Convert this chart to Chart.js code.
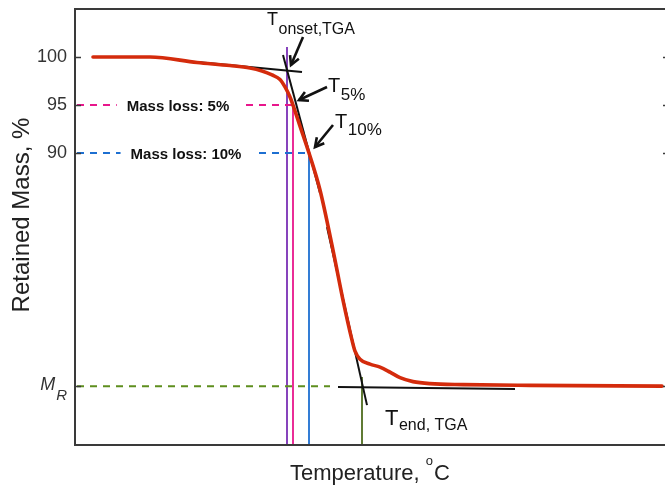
<!DOCTYPE html>
<html><head><meta charset="utf-8">
<script src="https://cdn.jsdelivr.net/npm/chart.js@4.4.0/dist/chart.umd.min.js"></script>
<style>html,body{margin:0;padding:0;background:#fff;overflow:hidden;}#wrap{width:672px;height:487px;overflow:hidden;}</style>
</head><body><div id="wrap"><canvas id="c" width="672" height="487"></canvas></div>
<script>
// ---- data (temperature in arbitrary °C units, retained mass in %) ----
const curveTemp = [18,75,122,155,175,187,197,205,210,215,218,225,234,245,258,268,277,280,285,295,305,315,325,338,355,388,455,587];
const curveMass = [100,100,99.43,99.11,98.85,98.54,98.13,97.66,96.88,95.83,95.0,92.81,90.0,86.15,79.90,74.69,70.52,69.38,68.54,68.02,67.71,67.19,66.61,66.20,65.99,65.89,65.81,65.73];

const baseTanTemp = [122,227],  baseTanMass = [99.48,98.44];
const steepTanATemp = [208,245], steepTanAMass = [100.21,85.83];
const steepTanBTemp = [252,292], steepTanBMass = [82.29,63.75];
const endTanTemp = [263,440],   endTanMass = [65.63,65.42];

const massLevels = [95, 90, 65.73];          // 5% loss, 10% loss, M_R
const levelEndTemp = [218, 234, 255];
const levelStartTemp = 2;
const markTemps = [212, 218, 234, 287];        // T_onset, T5%, T10%, T_end
const markTopMass = [101.04, 95, 90, 66.67];

const yTicks = [100, 95, 90, 65.73];
const yTickLabels = ['100', '95', '90', ''];
const mrLabel = ['M', 'R'];
const massLossLabels = ['Mass loss: 5%', 'Mass loss: 10%'];

const Y_MIN = 59.6, Y_MAX = 105, X_MIN = 0, X_MAX = 594;
const FONT = '"Liberation Sans", Arial, Helvetica, sans-serif';

const pts = (xs, ys) => xs.map((v, i) => ({x: v, y: ys[i]}));
const line = (data, color, width, dash) => ({data, borderColor: color, borderWidth: width, borderDash: dash || [], showLine: true, pointRadius: 0, fill: false});

const levelColors = ['#e8168c', '#1d6fd1', '#5e8e1e'];
const markColors = ['#7a2fb5', '#e8168c', '#1d6fd1', '#4f6d1f'];

const datasets = [];
const curveDs = line(pts(curveTemp, curveMass), '#d42b0c', 3.6);
curveDs.cubicInterpolationMode = 'monotone';
curveDs.borderCapStyle = 'round';
datasets.push(curveDs);
datasets.push(line(pts(baseTanTemp, baseTanMass), '#111', 2));
datasets.push(line(pts(steepTanATemp, steepTanAMass), '#111', 2));
datasets.push(line(pts(steepTanBTemp, steepTanBMass), '#111', 2));
datasets.push(line(pts(endTanTemp, endTanMass), '#111', 2));
massLevels.forEach((m, i) => datasets.push(line(pts([levelStartTemp, levelEndTemp[i]], [m, m]), levelColors[i], 2, [7, 6])));
markTemps.forEach((t, i) => datasets.push(line(pts([t, t], [Y_MIN, markTopMass[i]]), markColors[i], 1.8)));

// annotation positions (data coordinates)
const arrows = [
  [228, 102.08, 216, 99.17],
  [252, 96.875, 224, 95.52],
  [258, 92.92, 240, 90.625]
];
const tLabels = [
  {x: 192, y: 103.33, sub: 'onset,TGA', big: 18, small: 16, drop: 9},
  {x: 253, y: 96.35, sub: '5%', big: 20, small: 17, drop: 8},
  {x: 260, y: 92.6, sub: '10%', big: 20, small: 17, drop: 7},
  {x: 310, y: 61.67, sub: 'end, TGA', big: 22, small: 16, drop: 5}
];
const massLossCenters = [103, 111];

const annot = {
  id: 'annot',
  afterDatasetsDraw(chart) {
    const {ctx, chartArea: a, scales: {x, y}} = chart;
    const X = v => x.getPixelForValue(v), Y = v => y.getPixelForValue(v);
    ctx.save();
    // Mass loss labels with white background
    ctx.font = 'bold 15px ' + FONT;
    ctx.textBaseline = 'alphabetic';
    ctx.textAlign = 'center';
    massLossLabels.forEach((t, i) => {
      const cx = X(massLossCenters[i]), cy = Y(massLevels[i]);
      const w = ctx.measureText(t).width;
      ctx.fillStyle = '#fff';
      ctx.fillRect(cx - w / 2 - 10, cy - 10, w + 24, 20);
      ctx.fillStyle = '#111';
      ctx.fillText(t, cx, cy + 5.5);
    });
    // arrows
    ctx.strokeStyle = '#111'; ctx.lineWidth = 2.6; ctx.lineCap = 'butt'; ctx.lineJoin = 'miter';
    arrows.forEach(([x1, y1, x2, y2]) => {
      const p1 = [X(x1), Y(y1)], p2 = [X(x2), Y(y2)];
      ctx.beginPath(); ctx.moveTo(p1[0], p1[1]); ctx.lineTo(p2[0], p2[1]); ctx.stroke();
      const ang = Math.atan2(p2[1] - p1[1], p2[0] - p1[0]), L = 10, w = 0.5;
      ctx.beginPath();
      ctx.moveTo(p2[0] - L * Math.cos(ang - w), p2[1] - L * Math.sin(ang - w));
      ctx.lineTo(p2[0], p2[1]);
      ctx.lineTo(p2[0] - L * Math.cos(ang + w), p2[1] - L * Math.sin(ang + w));
      ctx.stroke();
    });
    // T labels
    ctx.fillStyle = '#111'; ctx.textAlign = 'left';
    tLabels.forEach(l => {
      const px = X(l.x), py = Y(l.y);
      ctx.font = l.big + 'px ' + FONT;
      ctx.fillText('T', px, py);
      const w = ctx.measureText('T').width;
      ctx.font = l.small + 'px ' + FONT;
      ctx.fillText(l.sub, px + w + 0.5, py + l.drop);
    });
    ctx.restore();
  },
  afterDraw(chart) {
    const {ctx, chartArea: a, scales: {y}} = chart;
    const Y = v => y.getPixelForValue(v);
    ctx.save();
    // frame
    ctx.strokeStyle = '#3a3a3a'; ctx.lineWidth = 2;
    ctx.strokeRect(a.left, a.top, a.right - a.left, a.bottom - a.top);
    // inward ticks
    ctx.lineWidth = 1.6;
    yTicks.forEach(v => {
      const py = Math.round(Y(v)) + 0.5;
      ctx.beginPath(); ctx.moveTo(a.left, py); ctx.lineTo(a.left + 6, py);
      ctx.moveTo(a.right - 6, py); ctx.lineTo(a.right, py); ctx.stroke();
    });
    // M_R tick label
    ctx.fillStyle = '#333'; ctx.textAlign = 'left'; ctx.textBaseline = 'alphabetic';
    ctx.font = 'italic 15px ' + FONT;
    const wR = ctx.measureText(mrLabel[1]).width;
    ctx.font = 'italic 18px ' + FONT;
    const wM = ctx.measureText(mrLabel[0]).width;
    const mrY = Y(yTicks[3]);
    const rx = a.left - 8 - wR;
    ctx.fillText(mrLabel[0], rx - wM - 1, mrY + 4);
    ctx.font = 'italic 15px ' + FONT;
    ctx.fillText(mrLabel[1], rx, mrY + 14);
    // y title
    ctx.save();
    ctx.translate(29, 215); ctx.rotate(-Math.PI / 2);
    ctx.textAlign = 'center'; ctx.font = '24px ' + FONT; ctx.fillStyle = '#222';
    ctx.fillText('Retained Mass, %', 0, 0);
    ctx.restore();
    // x title
    ctx.fillStyle = '#222'; ctx.textAlign = 'left';
    let tx = 290; const ty = 480;
    ctx.font = '22px ' + FONT;
    const part1 = 'Temperature, ';
    ctx.fillText(part1, tx, ty); tx += ctx.measureText(part1).width;
    ctx.font = '13px ' + FONT;
    ctx.fillText('o', tx, ty - 15); tx += ctx.measureText('o').width + 1;
    ctx.font = '22px ' + FONT;
    ctx.fillText('C', tx, ty);
    ctx.restore();
  }
};

const noPad = s => { s.paddingTop = 0; s.paddingBottom = 0; s.paddingLeft = 0; s.paddingRight = 0; };

new Chart(document.getElementById('c'), {
  type: 'scatter',
  data: {datasets},
  options: {
    responsive: false,
    animation: false,
    layout: {padding: {top: 9, right: 3, left: 0, bottom: 0}},
    plugins: {legend: {display: false}, tooltip: {enabled: false}},
    scales: {
      x: {
        type: 'linear', min: X_MIN, max: X_MAX,
        ticks: {display: false},
        grid: {display: false, drawTicks: false},
        border: {display: false},
        afterFit(s) { s.height = 42; noPad(s); }
      },
      y: {
        type: 'linear', min: Y_MIN, max: Y_MAX,
        grid: {display: false, drawTicks: false},
        border: {display: false},
        ticks: {
          padding: 8, color: '#333',
          font: {size: 18, family: FONT},
          callback: (v, i) => yTickLabels[i]
        },
        afterBuildTicks(s) { s.ticks = yTicks.map(v => ({value: v})); },
        afterFit(s) { s.width = 75; noPad(s); }
      }
    }
  },
  plugins: [annot]
});
</script>
</body></html>
